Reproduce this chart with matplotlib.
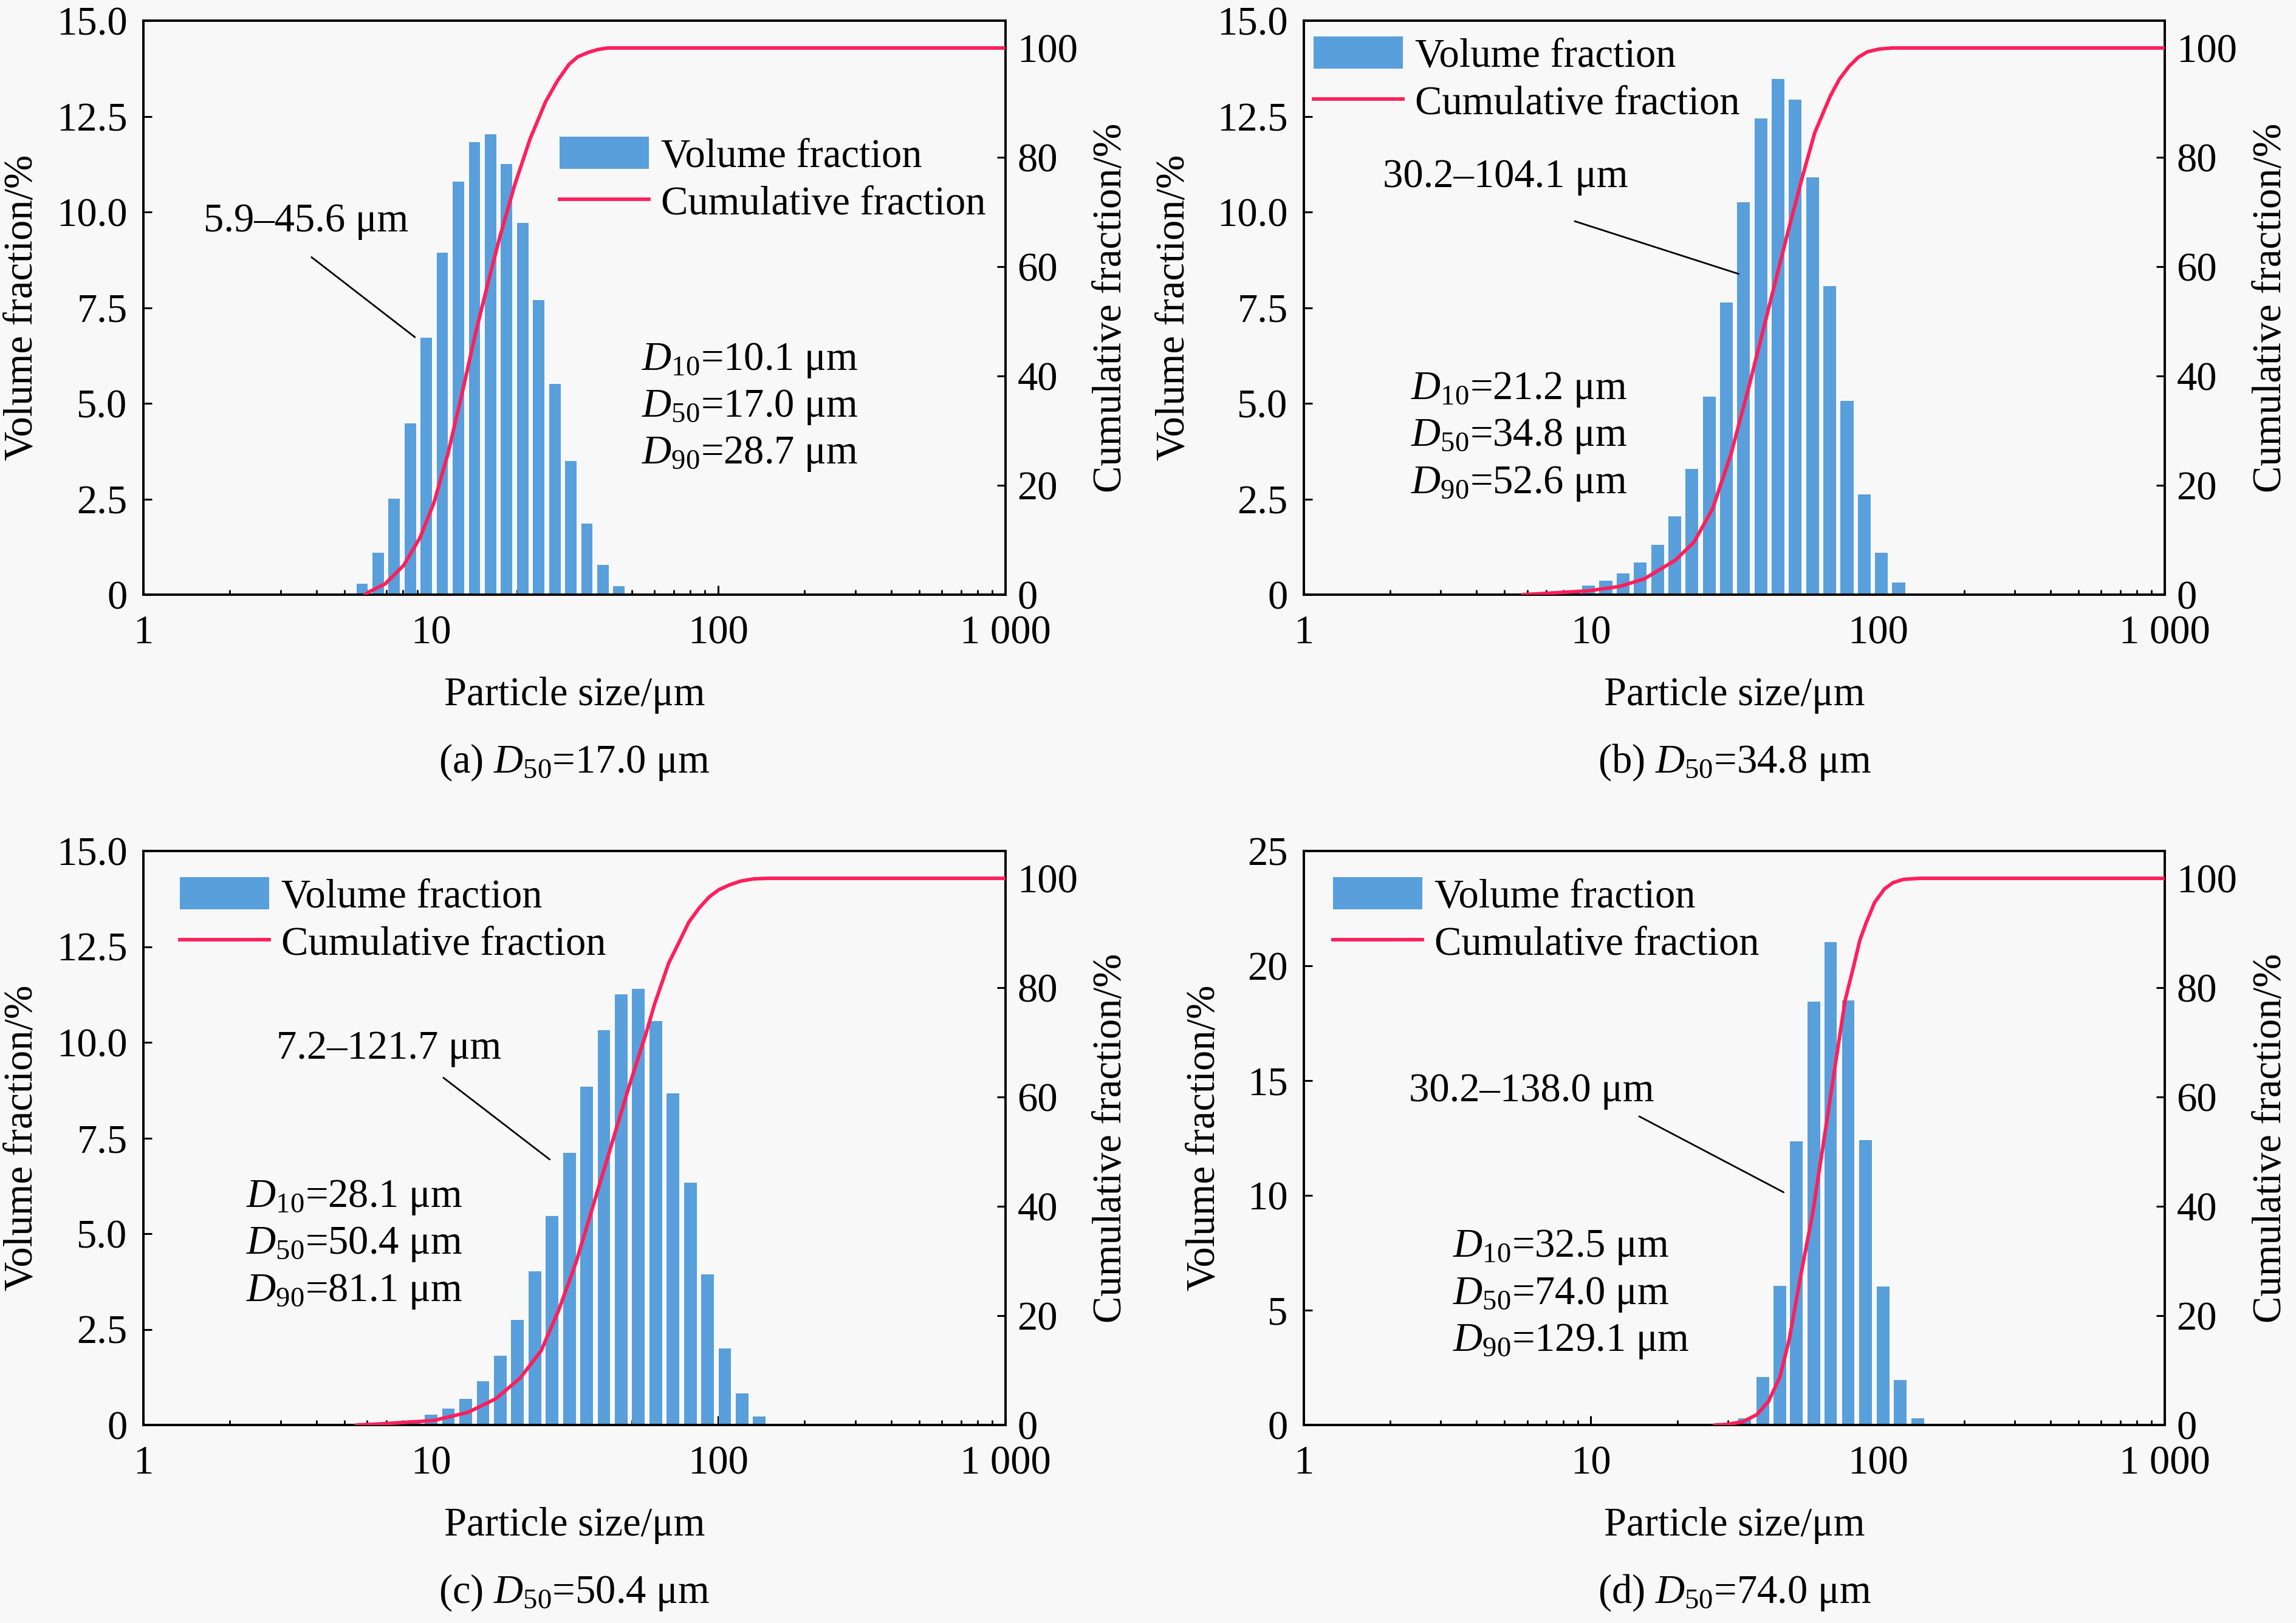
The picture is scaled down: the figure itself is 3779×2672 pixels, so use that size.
import numpy as np
import matplotlib
matplotlib.use('Agg')
import matplotlib.pyplot as plt
from matplotlib.ticker import FixedLocator, LogLocator, NullFormatter
from matplotlib.patches import Patch
from matplotlib.lines import Line2D

plt.rcParams['font.family'] = ['Liberation Serif', 'DejaVu Serif']
plt.rcParams['mathtext.fontset'] = 'custom'
plt.rcParams['mathtext.rm'] = 'Liberation Serif'
plt.rcParams['mathtext.it'] = 'Liberation Serif:italic'

# ---------------- data ----------------
size_a = [5.77, 6.56, 7.46, 8.48, 9.65, 10.97, 12.48, 14.20, 16.14, 18.36, 20.88,
          23.75, 27.01, 30.72, 34.94, 39.74, 45.20]
vol_a = [0.29, 1.09, 2.51, 4.48, 6.71, 8.94, 10.79, 11.82, 12.03, 11.26, 9.72,
         7.70, 5.51, 3.49, 1.86, 0.77, 0.23]
cum_x_a = [5.9, 6.15, 6.95, 8.06, 9.19, 10.27, 11.49, 12.85, 14.37, 16.08, 17.3,
           19.58, 22.17, 25.11, 27.6, 30.26, 32.5, 35.35, 38.0, 41.3, 1000]
cum_y_a = [0.0, 0.6, 2.0, 5.4, 10.5, 16.9, 25.9, 36.8, 48.2, 58.5, 65.0,
           74.9, 83.4, 90.2, 94.0, 97.0, 98.4, 99.2, 99.7, 100.0, 100.0]

size_b = [5.65, 6.49, 7.46, 8.56, 9.83, 11.28, 12.96, 14.88, 17.08, 19.61, 22.51,
          25.85, 29.68, 34.08, 39.13, 44.93, 51.58, 59.22, 68.0, 78.07, 89.64,
          102.9, 118.2, 135.7]
vol_b = [0.01, 0.03, 0.06, 0.10, 0.24, 0.36, 0.56, 0.84, 1.30, 2.05, 3.29,
         5.17, 7.63, 10.25, 12.44, 13.48, 12.94, 10.90, 8.07, 5.06, 2.62,
         1.09, 0.31, 0.03]
cum_x_b = [5.8, 7.29, 9.82, 12.6, 15.37, 19.7, 22.88, 26.56, 30.83, 35.78, 41.53,
           48.22, 54.6, 60.3, 68.3, 73.5, 79.3, 85.5, 92.0, 101.0, 112.0, 1000]
cum_y_b = [0.0, 0.3, 0.7, 1.5, 2.9, 6.3, 9.6, 15.7, 25.8, 38.6, 52.1,
           65.6, 76.4, 84.5, 91.2, 94.3, 96.6, 98.3, 99.3, 99.8, 100.0, 100.0]

size_c = [5.77, 6.63, 7.61, 8.74, 10.03, 11.52, 13.23, 15.20, 17.46, 20.04, 23.02,
          26.43, 30.36, 34.86, 40.04, 45.98, 52.80, 60.64, 69.64, 79.98, 91.85,
          105.5, 121.1, 139.1]
vol_c = [0.01, 0.03, 0.07, 0.12, 0.27, 0.43, 0.69, 1.14, 1.81, 2.74, 4.01,
         5.46, 7.11, 8.84, 10.31, 11.26, 11.40, 10.56, 8.66, 6.33, 3.94,
         2.00, 0.83, 0.23]
cum_x_c = [5.5, 6.69, 10.18, 13.46, 16.84, 20.48, 24.23, 27.87, 32.05, 36.86, 42.4,
           48.76, 56.1, 60.1, 67.3, 74.2, 79.1, 86.0, 93.1, 100.5, 109.5, 120.0, 133.0, 150.0, 1000]
cum_y_c = [0.0, 0.2, 0.8, 2.3, 4.8, 8.6, 13.6, 21.0, 29.8, 40.4, 51.0,
           61.6, 71.6, 77.0, 84.5, 89.0, 92.0, 94.6, 96.6, 97.9, 98.8, 99.5, 99.9, 100.0, 100.0]

size_d = [26.1, 30.0, 34.4, 39.8, 45.6, 52.0, 59.8, 68.5, 78.9, 90.7, 104.3, 119.8, 137.7]
vol_d = [0.02, 0.05, 0.28, 2.10, 6.07, 12.35, 18.43, 21.02, 18.50, 12.40, 6.03, 1.97, 0.28]
cum_x_d = [27.0, 29.7, 33.9, 37.9, 41.6, 45.6, 49.2, 54.0, 59.3, 65.1, 71.4,
           76.9, 82.9, 86.5, 91.0, 97.5, 105.7, 113.0, 122.7, 140.0, 1000]
cum_y_d = [0.0, 0.1, 0.6, 1.9, 4.3, 8.8, 15.8, 27.6, 38.7, 52.6, 66.5,
           77.6, 84.5, 88.6, 91.8, 95.6, 98.1, 99.2, 99.8, 100.0, 100.0]

range_labels = ['5.9–45.6 μm', '30.2–104.1 μm', '7.2–121.7 μm', '30.2–138.0 μm']
d10 = ['10.1', '21.2', '28.1', '32.5']
d50 = ['17.0', '34.8', '50.4', '74.0']
d90 = ['28.7', '52.6', '81.1', '129.1']
panel_ids = ['a', 'b', 'c', 'd']

x_ticks = [1, 10, 100, 1000]
x_ticklabels = ['1', '10', '100', '1 000']
y_ticks_15 = [0, 2.5, 5.0, 7.5, 10.0, 12.5, 15.0]
y_ticklabels_15 = ['0', '2.5', '5.0', '7.5', '10.0', '12.5', '15.0']
y_ticks_25 = [0, 5, 10, 15, 20, 25]
y_ticklabels_25 = ['0', '5', '10', '15', '20', '25']
r_ticks = [0, 20, 40, 60, 80, 100]
r_ticklabels = ['0', '20', '40', '60', '80', '100']

# ---------------- styles / layout ----------------
BAR = '#589FDB'
CURVE = '#FF1F5B'
BG = '#F8F8F8'
FS = 48

W, H = 3780, 2672
fig = plt.figure(figsize=(W / 100, H / 100), dpi=100, facecolor=BG)

# axes boxes in pixels: left, top, right, bottom
boxes = [(236, 34, 1655, 979), (2146, 34, 3563, 979),
         (236, 1401, 1655, 2346), (2146, 1401, 3563, 2346)]

panels = [
    dict(size=size_a, vol=vol_a, cx=cum_x_a, cy=cum_y_a, hw=0.020, ymax=15,
         yt=y_ticks_15, ytl=y_ticklabels_15,
         leg=(0.483, 0.798), rng_txt=(0.0696, 0.650), rng_line=((0.195, 0.588), (0.315, 0.4485)),
         dtxt=(0.578, 0.408), ylab_l=-0.141, ylab_r=1.122),
    dict(size=size_b, vol=vol_b, cx=cum_x_b, cy=cum_y_b, hw=0.0225, ymax=15,
         yt=y_ticks_15, ytl=y_ticklabels_15,
         leg=(0.0116, 0.973), rng_txt=(0.0919, 0.727), rng_line=((0.3146, 0.6506), (0.505, 0.5588)),
         dtxt=(0.124, 0.357), ylab_l=-0.151, ylab_r=1.123),
    dict(size=size_c, vol=vol_c, cx=cum_x_c, cy=cum_y_c, hw=0.022, ymax=15,
         yt=y_ticks_15, ytl=y_ticklabels_15,
         leg=(0.0424, 0.955), rng_txt=(0.1545, 0.656), rng_line=((0.348, 0.605), (0.4713, 0.4625)),
         dtxt=(0.119, 0.396), ylab_l=-0.141, ylab_r=1.122),
    dict(size=size_d, vol=vol_d, cx=cum_x_d, cy=cum_y_d, hw=0.022, ymax=25,
         yt=y_ticks_25, ytl=y_ticklabels_25,
         leg=(0.034, 0.955), rng_txt=(0.1224, 0.5816), rng_line=((0.3895, 0.5377), (0.5573, 0.4054)),
         dtxt=(0.1732, 0.309), ylab_l=-0.116, ylab_r=1.123),
]

for i, (p, box) in enumerate(zip(panels, boxes)):
    l, t, r, b = box
    ax = fig.add_axes([l / W, 1 - b / H, (r - l) / W, (b - t) / H])
    ax.set_facecolor(BG)
    ax.set_xscale('log')
    ax.set_xlim(1, 1000)
    ax.set_ylim(0, p['ymax'])

    s = np.array(p['size'])
    left = s * 10 ** (-p['hw'])
    width = s * (10 ** p['hw'] - 10 ** (-p['hw']))
    ax.bar(left, p['vol'], width=width, align='edge', color=BAR, linewidth=0, zorder=2)

    ax2 = ax.twinx()
    ax2.set_ylim(0, 105)
    ax2.plot(p['cx'], p['cy'], color=CURVE, lw=4.2, solid_capstyle='round',
             solid_joinstyle='round', zorder=3)

    # ticks
    ax.xaxis.set_major_locator(FixedLocator(x_ticks))
    ax.set_xticklabels(x_ticklabels)
    ax.xaxis.set_minor_locator(LogLocator(base=10, subs=np.arange(2, 10)))
    ax.xaxis.set_minor_formatter(NullFormatter())
    ax.set_yticks(p['yt'])
    ax.set_yticklabels(p['ytl'])
    ax2.set_yticks(r_ticks)
    ax2.set_yticklabels(r_ticklabels)

    ax.tick_params(axis='x', which='major', direction='in', length=11, width=2.2,
                   labelsize=FS, pad=24)
    ax.tick_params(axis='x', which='minor', direction='in', length=5.5, width=2.0)
    ax.tick_params(axis='y', which='major', direction='in', length=10, width=2.2,
                   labelsize=FS, pad=19)
    ax2.tick_params(axis='y', which='major', direction='in', length=10, width=2.2,
                    labelsize=FS, pad=14)
    for a_ in (ax, ax2):
        for sp in a_.spines.values():
            sp.set_linewidth(2.6)

    # labels
    ax.text(0.5, -0.175, 'Particle size/μm', transform=ax.transAxes,
            ha='center', va='center', fontsize=FS)
    ax.text(p['ylab_l'], 0.5, 'Volume fraction/%', transform=ax.transAxes,
            ha='center', va='center', rotation=90, fontsize=FS)
    ax.text(p['ylab_r'], 0.5, 'Cumulative fraction/%', transform=ax.transAxes,
            ha='center', va='center', rotation=90, fontsize=FS)
    ax.text(0.5, -0.292, '(%s) $D_{50}$=%s μm' % (panel_ids[i], d50[i]),
            transform=ax.transAxes, ha='center', va='center', fontsize=FS)

    # range annotation
    ax2.text(p['rng_txt'][0], p['rng_txt'][1], range_labels[i], transform=ax2.transAxes,
             ha='left', va='center', fontsize=FS, zorder=5)
    (x0, y0), (x1, y1) = p['rng_line']
    ax2.annotate('', xy=(x1, y1), xycoords='axes fraction', xytext=(x0, y0),
                 textcoords='axes fraction',
                 arrowprops=dict(arrowstyle='-', color='black', lw=2.0,
                                 shrinkA=0, shrinkB=0))

    # D values
    dx, dy = p['dtxt']
    step = 0.0817
    for k, (nm, val) in enumerate([('10', d10[i]), ('50', d50[i]), ('90', d90[i])]):
        ax2.text(dx, dy - k * step, '$D_{%s}$=%s μm' % (nm, val), transform=ax2.transAxes,
                 ha='left', va='center', fontsize=FS, zorder=5)

    # legend
    handles = [Patch(facecolor=BAR, edgecolor='none'),
               Line2D([0], [0], color=CURVE, lw=4.2)]
    ax2.legend(handles, ['Volume fraction', 'Cumulative fraction'], loc='upper left',
               bbox_to_anchor=p['leg'], frameon=False, fontsize=FS,
               handlelength=2.2, handleheight=0.85, handletextpad=0.3,
               labelspacing=0.22, borderpad=0, borderaxespad=0)

fig.savefig('out.png', dpi=100, facecolor=BG)
